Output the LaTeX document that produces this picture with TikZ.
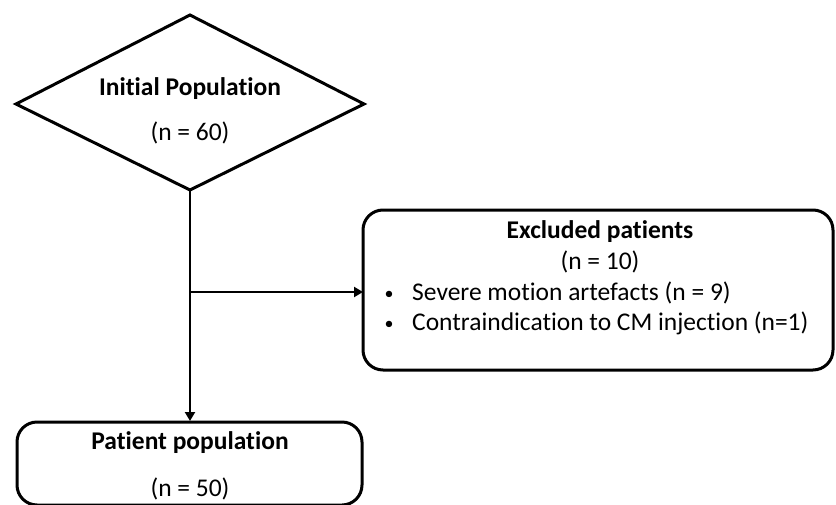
\documentclass[tikz,border=0pt]{standalone}
\usepackage{fontspec}
\setmainfont[Ligatures=NoCommon]{Carlito}
\usetikzlibrary{arrows.meta}
\begin{document}
\begin{tikzpicture}[x=1pt,y=-1pt,
  shapeline/.style={draw=black,line width=3pt},
  rbox/.style={shapeline,rounded corners=20pt},
  conn/.style={line width=2.8pt,-{Triangle[length=9pt,width=10pt]}},
  txt/.style={font=\fontsize{25.5}{30}\selectfont,inner sep=0pt,anchor=base}
]
\useasboundingbox (0,0) rectangle (836,504);
% diamond
\draw[shapeline,line join=miter] (190,15) coordinate (dtop) -- (364,104) -- (190,190) coordinate (dbot) -- (16,104) -- cycle;
\node[txt] (t1) at (190,95) {\textbf{Initial Population}};
\node[txt] (t2) at (190,140) {(n = 60)};
% excluded box
\draw[rbox] (363,210) rectangle (833,370);
\coordinate (exL) at (363,292);
\node[txt] (e1) at (600,238) {\textbf{Excluded patients}};
\node[txt] (e2) at (600,269) {(n = 10)};
\node[txt,anchor=base] (b1) at (389,299) {\fontsize{18}{20}\selectfont•};
\node[txt,anchor=base west] (e3) at (412,300) {Severe motion artefacts (n = 9)};
\node[txt,anchor=base] (b2) at (389,329) {\fontsize{18}{20}\selectfont•};
\node[txt,anchor=base west] (e4) at (412,330) {Contraindication to CM injection (n=1)};
% bottom box
\draw[rbox] (17,422) rectangle (362,505);
\coordinate (pbT) at (190,421);
\node[txt] (p1) at (190,449) {\textbf{Patient population}};
\node[txt] (p2) at (190,496) {(n = 50)};
% connectors
\coordinate (br) at (190,292);
\draw[conn] (dbot) -- (pbT);
\draw[conn] (br) -- (exL);
\end{tikzpicture}
\end{document}
